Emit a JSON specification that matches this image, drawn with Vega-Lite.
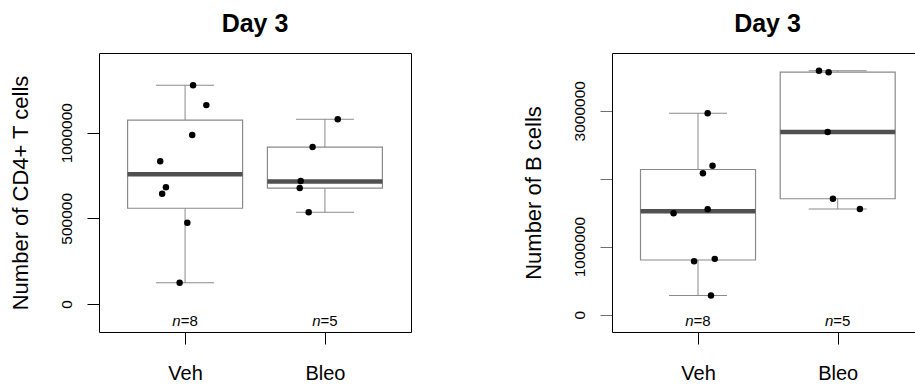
{
  "$schema": "https://vega.github.io/schema/vega-lite/v6.json",
  "usermeta": {"embedOptions": {"actions": false}},
  "padding": {"left": 8, "top": 11, "right": 0, "bottom": 0},
  "background": "white",
  "config": {
    "font": "Liberation Sans",
    "axis": {"grid": false, "labelFont": "Liberation Sans", "titleFont": "Liberation Sans"},
    "title": {"font": "Liberation Sans"},
    "text": {"font": "Liberation Sans"}
  },
  "datasets": {
    "cd4_points": [
      {"group": "Veh", "pos": 1.057, "value": 1277000},
      {"group": "Veh", "pos": 1.152, "value": 1161000},
      {"group": "Veh", "pos": 1.051, "value": 986000},
      {"group": "Veh", "pos": 0.822, "value": 834000},
      {"group": "Veh", "pos": 0.863, "value": 681000},
      {"group": "Veh", "pos": 0.836, "value": 644000},
      {"group": "Veh", "pos": 1.016, "value": 474000},
      {"group": "Veh", "pos": 0.961, "value": 124000},
      {"group": "Bleo", "pos": 2.092, "value": 1079000},
      {"group": "Bleo", "pos": 1.912, "value": 916000},
      {"group": "Bleo", "pos": 1.827, "value": 718000},
      {"group": "Bleo", "pos": 1.82, "value": 677000},
      {"group": "Bleo", "pos": 1.884, "value": 535000}
    ],
    "cd4_boxes": [
      {"group": "Veh", "pos": 1, "lo": 124000, "q1": 559000, "med": 757500, "q3": 1073500, "hi": 1277000, "n": "=8"},
      {"group": "Bleo", "pos": 2, "lo": 535000, "q1": 677000, "med": 715000, "q3": 916000, "hi": 1079000, "n": "=5"}
    ],
    "b_points": [
      {"group": "Veh", "pos": 1.069, "value": 2965000},
      {"group": "Veh", "pos": 1.104, "value": 2192000},
      {"group": "Veh", "pos": 1.035, "value": 2080000},
      {"group": "Veh", "pos": 0.825, "value": 1490000},
      {"group": "Veh", "pos": 1.069, "value": 1549000},
      {"group": "Veh", "pos": 0.972, "value": 786000},
      {"group": "Veh", "pos": 1.12, "value": 820000},
      {"group": "Veh", "pos": 1.093, "value": 280000},
      {"group": "Bleo", "pos": 1.866, "value": 3588000},
      {"group": "Bleo", "pos": 1.935, "value": 3569000},
      {"group": "Bleo", "pos": 1.928, "value": 2689000},
      {"group": "Bleo", "pos": 1.966, "value": 1705000},
      {"group": "Bleo", "pos": 2.159, "value": 1553000}
    ],
    "b_boxes": [
      {"group": "Veh", "pos": 1, "lo": 280000, "q1": 803000, "med": 1519500, "q3": 2136000, "hi": 2965000, "n": "=8"},
      {"group": "Bleo", "pos": 2, "lo": 1553000, "q1": 1705000, "med": 2689000, "q3": 3569000, "hi": 3588000, "n": "=5"}
    ]
  },
  "hconcat": [
    {
      "width": 312,
      "height": 279,
      "view": {"stroke": "black", "strokeWidth": 1},
      "title": {"text": "Day 3", "fontSize": 25, "fontWeight": "bold", "color": "black", "baseline": "bottom", "offset": -9, "anchor": "middle"},
      "layer": [
        {
          "data": {"name": "cd4_boxes"},
          "mark": {"type": "rule", "color": "#8a8a8a", "strokeWidth": 1},
          "encoding": {
            "x": {"field": "pos", "type": "quantitative", "title": null, "scale": {"domain": [0.42, 2.58], "nice": false, "zero": false},
              "axis": {"values": [1, 2], "labelExpr": "datum.value == 1 ? 'Veh' : 'Bleo'", "labelFontSize": 20, "labelColor": "black", "labelPadding": 19.5, "tickSize": 12, "tickColor": "black", "domain": false, "labelFlush": false, "labelOverlap": false, "grid": false}},
            "y": {"field": "lo", "type": "quantitative", "title": "Number of CD4+ T cells", "scale": {"domain": [-163500, 1465300], "nice": false, "zero": false},
              "axis": {"values": [0, 500000, 1000000], "format": "d", "labelAngle": 270, "labelAlign": "center", "labelBaseline": "alphabetic", "labelPadding": 16, "labelFontSize": 15.5, "labelColor": "black", "tickSize": 12, "tickColor": "black", "domain": false, "labelFlush": false, "labelOverlap": false, "grid": false,
                "titleFontSize": 22, "titleFontWeight": "normal", "titleColor": "black", "titleAngle": 270, "titleBaseline": "alphabetic", "titleAlign": "center", "titleX": -72, "titleY": 139.5}},
            "y2": {"field": "hi"}
          }
        },
        {
          "data": {"name": "cd4_boxes"},
          "mark": {"type": "tick", "orient": "horizontal", "size": 58, "thickness": 1, "color": "#8a8a8a", "opacity": 1},
          "encoding": {
            "x": {"field": "pos", "type": "quantitative", "title": null, "scale": {"domain": [0.42, 2.58], "nice": false, "zero": false}},
            "y": {"field": "lo", "type": "quantitative", "title": "Number of CD4+ T cells", "scale": {"domain": [-163500, 1465300], "nice": false, "zero": false}}
          }
        },
        {
          "data": {"name": "cd4_boxes"},
          "mark": {"type": "tick", "orient": "horizontal", "size": 58, "thickness": 1, "color": "#8a8a8a", "opacity": 1},
          "encoding": {
            "x": {"field": "pos", "type": "quantitative", "title": null, "scale": {"domain": [0.42, 2.58], "nice": false, "zero": false}},
            "y": {"field": "hi", "type": "quantitative", "title": "Number of CD4+ T cells", "scale": {"domain": [-163500, 1465300], "nice": false, "zero": false}}
          }
        },
        {
          "data": {"name": "cd4_boxes"},
          "mark": {"type": "bar", "size": 115, "fill": "white", "stroke": "#8a8a8a", "strokeWidth": 1.2, "opacity": 1},
          "encoding": {
            "x": {"field": "pos", "type": "quantitative", "title": null, "scale": {"domain": [0.42, 2.58], "nice": false, "zero": false}},
            "y": {"field": "q1", "type": "quantitative", "title": "Number of CD4+ T cells", "scale": {"domain": [-163500, 1465300], "nice": false, "zero": false}},
            "y2": {"field": "q3"}
          }
        },
        {
          "data": {"name": "cd4_boxes"},
          "mark": {"type": "tick", "orient": "horizontal", "size": 115, "thickness": 4.5, "color": "#505050", "opacity": 1},
          "encoding": {
            "x": {"field": "pos", "type": "quantitative", "title": null, "scale": {"domain": [0.42, 2.58], "nice": false, "zero": false}},
            "y": {"field": "med", "type": "quantitative", "title": "Number of CD4+ T cells", "scale": {"domain": [-163500, 1465300], "nice": false, "zero": false}}
          }
        },
        {
          "data": {"name": "cd4_points"},
          "mark": {"type": "circle", "size": 42, "color": "black", "opacity": 1},
          "encoding": {
            "x": {"field": "pos", "type": "quantitative", "title": null, "scale": {"domain": [0.42, 2.58], "nice": false, "zero": false}},
            "y": {"field": "value", "type": "quantitative", "title": "Number of CD4+ T cells", "scale": {"domain": [-163500, 1465300], "nice": false, "zero": false}}
          }
        },
        {
          "data": {"name": "cd4_boxes"},
          "mark": {"type": "text", "text": "n", "fontStyle": "italic", "fontSize": 15, "align": "right", "baseline": "alphabetic", "dx": -4.4, "color": "black"},
          "encoding": {
            "x": {"field": "pos", "type": "quantitative", "title": null, "scale": {"domain": [0.42, 2.58], "nice": false, "zero": false}},
            "y": {"datum": -128400, "type": "quantitative", "title": "Number of CD4+ T cells", "scale": {"domain": [-163500, 1465300], "nice": false, "zero": false}}
          }
        },
        {
          "data": {"name": "cd4_boxes"},
          "mark": {"type": "text", "fontSize": 15, "align": "left", "baseline": "alphabetic", "dx": -4.4, "color": "black"},
          "encoding": {
            "x": {"field": "pos", "type": "quantitative", "title": null, "scale": {"domain": [0.42, 2.58], "nice": false, "zero": false}},
            "y": {"datum": -128400, "type": "quantitative", "title": "Number of CD4+ T cells", "scale": {"domain": [-163500, 1465300], "nice": false, "zero": false}},
            "text": {"field": "n"}
          }
        }
      ]
    },
    {
      "width": 305,
      "height": 279,
      "view": {"stroke": null},
      "title": {"text": "Day 3", "fontSize": 25, "fontWeight": "bold", "color": "black", "baseline": "bottom", "offset": -9, "anchor": "middle", "dx": 3},
      "resolve": {"axis": {"x": "independent"}},
      "layer": [
        {
          "data": {"name": "b_boxes"},
          "mark": {"type": "rule", "color": "#8a8a8a", "strokeWidth": 1},
          "encoding": {
            "x": {"field": "pos", "type": "quantitative", "title": null, "scale": {"domain": [0.42, 2.532], "nice": false, "zero": false},
              "axis": {"values": [1, 2], "labelExpr": "datum.value == 1 ? 'Veh' : 'Bleo'", "labelFontSize": 20, "labelColor": "black", "labelPadding": 19.5, "tickSize": 12, "tickColor": "black", "domain": true, "domainColor": "black", "domainWidth": 1, "labelFlush": false, "labelOverlap": false, "grid": false}},
            "y": {"field": "lo", "type": "quantitative", "title": "Number of B cells", "scale": {"domain": [-256700, 3851000], "nice": false, "zero": false},
              "axis": {"values": [0, 1000000, 2000000, 3000000], "format": "d", "labelExpr": "datum.value == 2000000 ? '' : datum.label", "labelAngle": 270, "labelAlign": "center", "labelBaseline": "alphabetic", "labelPadding": 16, "labelFontSize": 15.5, "labelColor": "black", "tickSize": 12, "tickColor": "#707070", "domain": true, "domainColor": "black", "domainWidth": 1, "labelFlush": false, "labelOverlap": false, "grid": false,
                "titleFontSize": 22, "titleFontWeight": "normal", "titleColor": "black", "titleAngle": 270, "titleBaseline": "alphabetic", "titleAlign": "center", "titleX": -72, "titleY": 139.5}},
            "y2": {"field": "hi"}
          }
        },
        {
          "data": {"name": "b_boxes"},
          "mark": {"type": "tick", "orient": "horizontal", "size": 58, "thickness": 1, "color": "#8a8a8a", "opacity": 1},
          "encoding": {
            "x": {"field": "pos", "type": "quantitative", "title": null, "scale": {"domain": [0.42, 2.532], "nice": false, "zero": false},
              "axis": {"orient": "top", "labels": false, "ticks": false, "domain": true, "domainColor": "black", "domainWidth": 1, "grid": false}},
            "y": {"field": "lo", "type": "quantitative", "title": "Number of B cells", "scale": {"domain": [-256700, 3851000], "nice": false, "zero": false}}
          }
        },
        {
          "data": {"name": "b_boxes"},
          "mark": {"type": "tick", "orient": "horizontal", "size": 58, "thickness": 1, "color": "#8a8a8a", "opacity": 1},
          "encoding": {
            "x": {"field": "pos", "type": "quantitative", "title": null, "scale": {"domain": [0.42, 2.532], "nice": false, "zero": false}, "axis": null},
            "y": {"field": "hi", "type": "quantitative", "title": "Number of B cells", "scale": {"domain": [-256700, 3851000], "nice": false, "zero": false}}
          }
        },
        {
          "data": {"name": "b_boxes"},
          "mark": {"type": "bar", "size": 115, "fill": "white", "stroke": "#8a8a8a", "strokeWidth": 1.2, "opacity": 1},
          "encoding": {
            "x": {"field": "pos", "type": "quantitative", "title": null, "scale": {"domain": [0.42, 2.532], "nice": false, "zero": false}, "axis": null},
            "y": {"field": "q1", "type": "quantitative", "title": "Number of B cells", "scale": {"domain": [-256700, 3851000], "nice": false, "zero": false}},
            "y2": {"field": "q3"}
          }
        },
        {
          "data": {"name": "b_boxes"},
          "mark": {"type": "tick", "orient": "horizontal", "size": 115, "thickness": 4.5, "color": "#505050", "opacity": 1},
          "encoding": {
            "x": {"field": "pos", "type": "quantitative", "title": null, "scale": {"domain": [0.42, 2.532], "nice": false, "zero": false}, "axis": null},
            "y": {"field": "med", "type": "quantitative", "title": "Number of B cells", "scale": {"domain": [-256700, 3851000], "nice": false, "zero": false}}
          }
        },
        {
          "data": {"name": "b_points"},
          "mark": {"type": "circle", "size": 42, "color": "black", "opacity": 1},
          "encoding": {
            "x": {"field": "pos", "type": "quantitative", "title": null, "scale": {"domain": [0.42, 2.532], "nice": false, "zero": false}, "axis": null},
            "y": {"field": "value", "type": "quantitative", "title": "Number of B cells", "scale": {"domain": [-256700, 3851000], "nice": false, "zero": false}}
          }
        },
        {
          "data": {"name": "b_boxes"},
          "mark": {"type": "text", "text": "n", "fontStyle": "italic", "fontSize": 15, "align": "right", "baseline": "alphabetic", "dx": -4.4, "color": "black"},
          "encoding": {
            "x": {"field": "pos", "type": "quantitative", "title": null, "scale": {"domain": [0.42, 2.532], "nice": false, "zero": false}, "axis": null},
            "y": {"datum": -172600, "type": "quantitative", "title": "Number of B cells", "scale": {"domain": [-256700, 3851000], "nice": false, "zero": false}}
          }
        },
        {
          "data": {"name": "b_boxes"},
          "mark": {"type": "text", "fontSize": 15, "align": "left", "baseline": "alphabetic", "dx": -4.4, "color": "black"},
          "encoding": {
            "x": {"field": "pos", "type": "quantitative", "title": null, "scale": {"domain": [0.42, 2.532], "nice": false, "zero": false}, "axis": null},
            "y": {"datum": -172600, "type": "quantitative", "title": "Number of B cells", "scale": {"domain": [-256700, 3851000], "nice": false, "zero": false}},
            "text": {"field": "n"}
          }
        }
      ]
    }
  ],
  "spacing": 201,
  "bounds": "flush"
}
